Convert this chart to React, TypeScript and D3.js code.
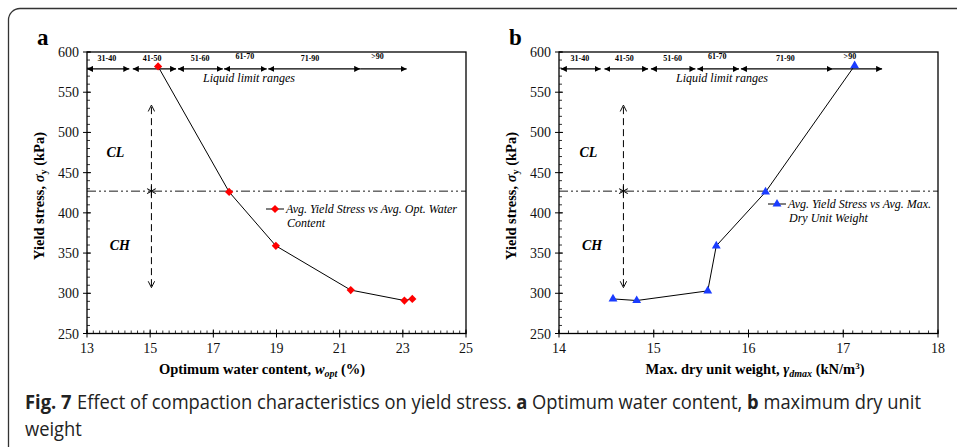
import React from 'react';
import * as d3 from 'd3';

// values
const waterContent = [15.25, 17.5, 18.98, 21.35, 23.05, 23.3];
const yieldA = [582, 426, 359, 304, 291, 293];
const dryWeight = [14.57, 14.82, 15.57, 15.66, 16.18, 17.12];
const yieldB = [293, 291, 303, 359, 426, 583];

const yTicks = [250, 300, 350, 400, 450, 500, 550, 600];
const xTicksA = [13, 15, 17, 19, 21, 23, 25];
const xTicksB = [14, 15, 16, 17, 18];

const rangeLabels = ['31-40', '41-50', '51-60', '61-70', '71-90', '>90'];
const rangeSegA = [[13.0, 14.34], [14.45, 15.82], [15.88, 17.3], [17.34, 18.69], [18.74, 21.65], [21.65, 23.12]];
const rangeLabelXA = [13.63, 15.06, 16.58, 18.0, 20.06, 22.2];
const rangeSegB = [[14.02, 14.44], [14.48, 14.94], [14.97, 15.44], [15.46, 15.9], [15.92, 16.89], [16.89, 17.41]];
const rangeLabelXB = [14.22, 14.69, 15.2, 15.67, 16.39, 17.07];

const clChLine = 427;
const serif = '"Liberation Serif", "Times New Roman", serif';
const sans = '"Open Sans", "Noto Sans", sans-serif';

type PanelProps = {
  letter: string;
  left: number;
  right: number;
  xDomain: [number, number];
  xTicks: number[];
  xMinor: number;
  xs: number[];
  ys: number[];
  marker: 'diamond' | 'triangle';
  color: string;
  segs: number[][];
  labelXs: number[];
  liquidX: number;
  arrowX: number;
  clX: number;
  chX: number;
  legend: { x: number; y: number; lines: string[] };
  xLabel: React.ReactNode;
  xLabelX: number;
};

const top = 52;
const bottom = 333.5;

function Panel(p: PanelProps) {
  const x = d3.scaleLinear().domain(p.xDomain).range([p.left, p.right]);
  const y = d3.scaleLinear().domain([250, 600]).range([bottom, top]);
  const line = d3.line<number>().x((d, i) => x(p.xs[i])).y(d => y(d));
  const sym = p.marker === 'diamond'
    ? d3.symbol().type(d3.symbolSquare).size(34)
    : d3.symbol().type(d3.symbolTriangle).size(34);
  const rot = p.marker === 'diamond' ? ' rotate(45)' : '';
  const xMinor = d3.range(p.xDomain[0], p.xDomain[1] + 1e-6, p.xMinor);
  const yMinor = d3.range(250, 600.001, 10);
  const aster = d3.symbol().type(d3.symbolAsterisk).size(70)();

  return (
    <g>
      <text x={p.left - 50} y={45} fontFamily={serif} fontWeight="bold" fontSize={23}>{p.letter}</text>

      {/* minor ticks */}
      {xMinor.map((v, i) => (
        <line key={'xm' + i} x1={x(v)} x2={x(v)} y1={bottom} y2={bottom - 3} stroke="#000" strokeWidth={0.8} />
      ))}
      {yMinor.map((v, i) => (
        <line key={'ym' + i} x1={p.left} x2={p.left + 3} y1={y(v)} y2={y(v)} stroke="#000" strokeWidth={0.8} />
      ))}
      {/* major ticks + labels */}
      {p.xTicks.map(v => (
        <g key={'xt' + v}>
          <line x1={x(v)} x2={x(v)} y1={bottom + 4} y2={bottom - 4} stroke="#000" strokeWidth={1} />
          <text x={x(v)} y={353} textAnchor="middle" fontFamily={serif} fontSize={14} fill="#111">{v}</text>
        </g>
      ))}
      {yTicks.map(v => (
        <g key={'yt' + v}>
          <line x1={p.left - 4} x2={p.left + 4} y1={y(v)} y2={y(v)} stroke="#000" strokeWidth={1} />
          <text x={p.left - 8} y={y(v) + 5} textAnchor="end" fontFamily={serif} fontSize={14} fill="#111">{v}</text>
        </g>
      ))}
      <rect x={p.left} y={top} width={p.right - p.left} height={bottom - top} fill="none" stroke="#000" strokeWidth={1.3} />

      {/* liquid limit ranges */}
      {p.segs.map((s, i) => (
        <line key={'sg' + i} x1={x(s[0])} x2={x(s[1])} y1={y(579)} y2={y(579)} stroke="#000" strokeWidth={1.1}
          markerEnd="url(#tri)" markerStart={i === p.segs.length - 1 ? undefined : 'url(#tri)'} />
      ))}
      {p.labelXs.map((v, i) => (
        <text key={'rl' + i} x={x(v)} y={i === 3 || i === 5 ? y(591) : y(589)} textAnchor="middle"
          fontFamily={serif} fontWeight="bold" fontSize={8}>{rangeLabels[i]}</text>
      ))}
      <text x={x(p.liquidX)} y={y(563)} textAnchor="middle" fontFamily={serif} fontStyle="italic" fontSize={12}>Liquid limit ranges</text>

      {/* CL / CH boundary */}
      <line x1={p.left} x2={p.right} y1={y(clChLine)} y2={y(clChLine)} stroke="#000" strokeWidth={0.9}
        strokeDasharray="9,3,2,3,2,3" />
      <line x1={x(p.arrowX)} x2={x(p.arrowX)} y1={y(clChLine)} y2={y(534)} stroke="#000" strokeWidth={1}
        strokeDasharray="7,4" markerEnd="url(#chev)" />
      <line x1={x(p.arrowX)} x2={x(p.arrowX)} y1={y(clChLine)} y2={y(307)} stroke="#000" strokeWidth={1}
        strokeDasharray="7,4" markerEnd="url(#chev)" />
      <path d={aster || ''} transform={`translate(${x(p.arrowX)},${y(clChLine)})`} stroke="#000" strokeWidth={1.1} fill="none" />
      <text x={x(p.clX)} y={y(470)} textAnchor="middle" fontFamily={serif} fontWeight="bold" fontStyle="italic" fontSize={14}>CL</text>
      <text x={x(p.chX)} y={y(354)} textAnchor="middle" fontFamily={serif} fontWeight="bold" fontStyle="italic" fontSize={14}>CH</text>

      {/* series */}
      <path d={line(p.ys) || ''} fill="none" stroke="#000" strokeWidth={1} />
      {p.ys.map((v, i) => (
        <path key={'pt' + i} d={sym() || ''} transform={`translate(${x(p.xs[i])},${y(v)})${rot}`} fill={p.color} />
      ))}

      {/* legend */}
      <line x1={p.legend.x} x2={p.legend.x + 18} y1={p.legend.y} y2={p.legend.y} stroke="#000" strokeWidth={1} />
      <path d={sym() || ''} transform={`translate(${p.legend.x + 9},${p.legend.y})${rot}`} fill={p.color} />
      {p.legend.lines.map((t, i) => (
        <text key={'lg' + i} x={p.legend.x + (i === 0 ? 20 : 21)} y={p.legend.y + 4 + i * 14}
          fontFamily={serif} fontStyle="italic" fontSize={12}>{t}</text>
      ))}

      {/* axis titles */}
      <text transform={`translate(${p.left - 43},196) rotate(-90)`} textAnchor="middle" fontFamily={serif}
        fontWeight="bold" fontSize={14.5}>
        Yield stress, <tspan fontStyle="italic">σ</tspan><tspan fontSize={10} dy={3}>y</tspan><tspan dy={-3}> (kPa)</tspan>
      </text>
      <text x={p.xLabelX} y={374} textAnchor="middle" fontFamily={serif} fontWeight="bold" fontSize={14.5}>{p.xLabel}</text>
    </g>
  );
}

export default function App() {
  return (
    <svg width={957} height={447} style={{ position: 'absolute', left: 0, top: 0, background: '#fff' }}>
      <defs>
        <marker id="tri" viewBox="0 0 10 10" refX={10} refY={5} markerWidth={6} markerHeight={6}
          markerUnits="userSpaceOnUse" orient="auto-start-reverse">
          <path d="M0,0 L10,5 L0,10 z" fill="#000" />
        </marker>
        <marker id="chev" viewBox="0 0 10 10" refX={9} refY={5} markerWidth={8} markerHeight={8}
          markerUnits="userSpaceOnUse" orient="auto">
          <path d="M1,1 L9,5 L1,9" fill="none" stroke="#000" strokeWidth={1.2} />
        </marker>
      </defs>
      <rect x={0} y={0} width={957} height={447} fill="#fff" />
      <path d="M957,8.5 L20,8.5 A11.5,11.5 0 0 0 8.5,20 L8.5,447" fill="none" stroke="#333" strokeWidth={1.3} />

      <Panel letter="a" left={87} right={466} xDomain={[13, 25]} xTicks={xTicksA} xMinor={0.2}
        xs={waterContent} ys={yieldA} marker="diamond" color="#ff0000"
        segs={rangeSegA} labelXs={rangeLabelXA} liquidX={18.13} arrowX={15.04} clX={13.9} chX={14.04}
        legend={{ x: 266, y: 209, lines: ['Avg. Yield Stress vs Avg. Opt. Water', 'Content'] }}
        xLabelX={262}
        xLabel={<>Optimum water content, <tspan fontStyle="italic">w</tspan><tspan fontStyle="italic" fontSize={10} dy={3}>opt</tspan><tspan dy={-3}> (%)</tspan></>}
      />
      <Panel letter="b" left={559} right={938} xDomain={[14, 18]} xTicks={xTicksB} xMinor={0.1}
        xs={dryWeight} ys={yieldB} marker="triangle" color="#1a3cff"
        segs={rangeSegB} labelXs={rangeLabelXB} liquidX={15.72} arrowX={14.68} clX={14.31} chX={14.35}
        legend={{ x: 768, y: 204, lines: ['Avg. Yield Stress vs Avg. Max.', 'Dry Unit Weight'] }}
        xLabelX={755}
        xLabel={<>Max. dry unit weight, <tspan fontStyle="italic">γ</tspan><tspan fontStyle="italic" fontSize={10} dy={3}>dmax</tspan><tspan dy={-3}> (kN/m</tspan><tspan fontSize={9} dy={-5}>3</tspan><tspan dy={5}>)</tspan></>}
      />

      {/* caption, squeezed horizontally like the condensed journal font */}
      <g transform="translate(25,409) scale(0.94,1)">
        <text x={0} y={0} fontFamily={sans} fontSize={19.5} fill="#222">
          <tspan fontWeight="bold">Fig. 7</tspan><tspan dx={6}>Effect of compaction characteristics on yield stress. </tspan>
          <tspan fontWeight="bold">a</tspan><tspan> Optimum water content, </tspan>
          <tspan fontWeight="bold">b</tspan><tspan> maximum dry unit</tspan>
        </text>
        <text x={0} y={27} fontFamily={sans} fontSize={19.5} fill="#222">weight</text>
      </g>
    </svg>
  );
}
